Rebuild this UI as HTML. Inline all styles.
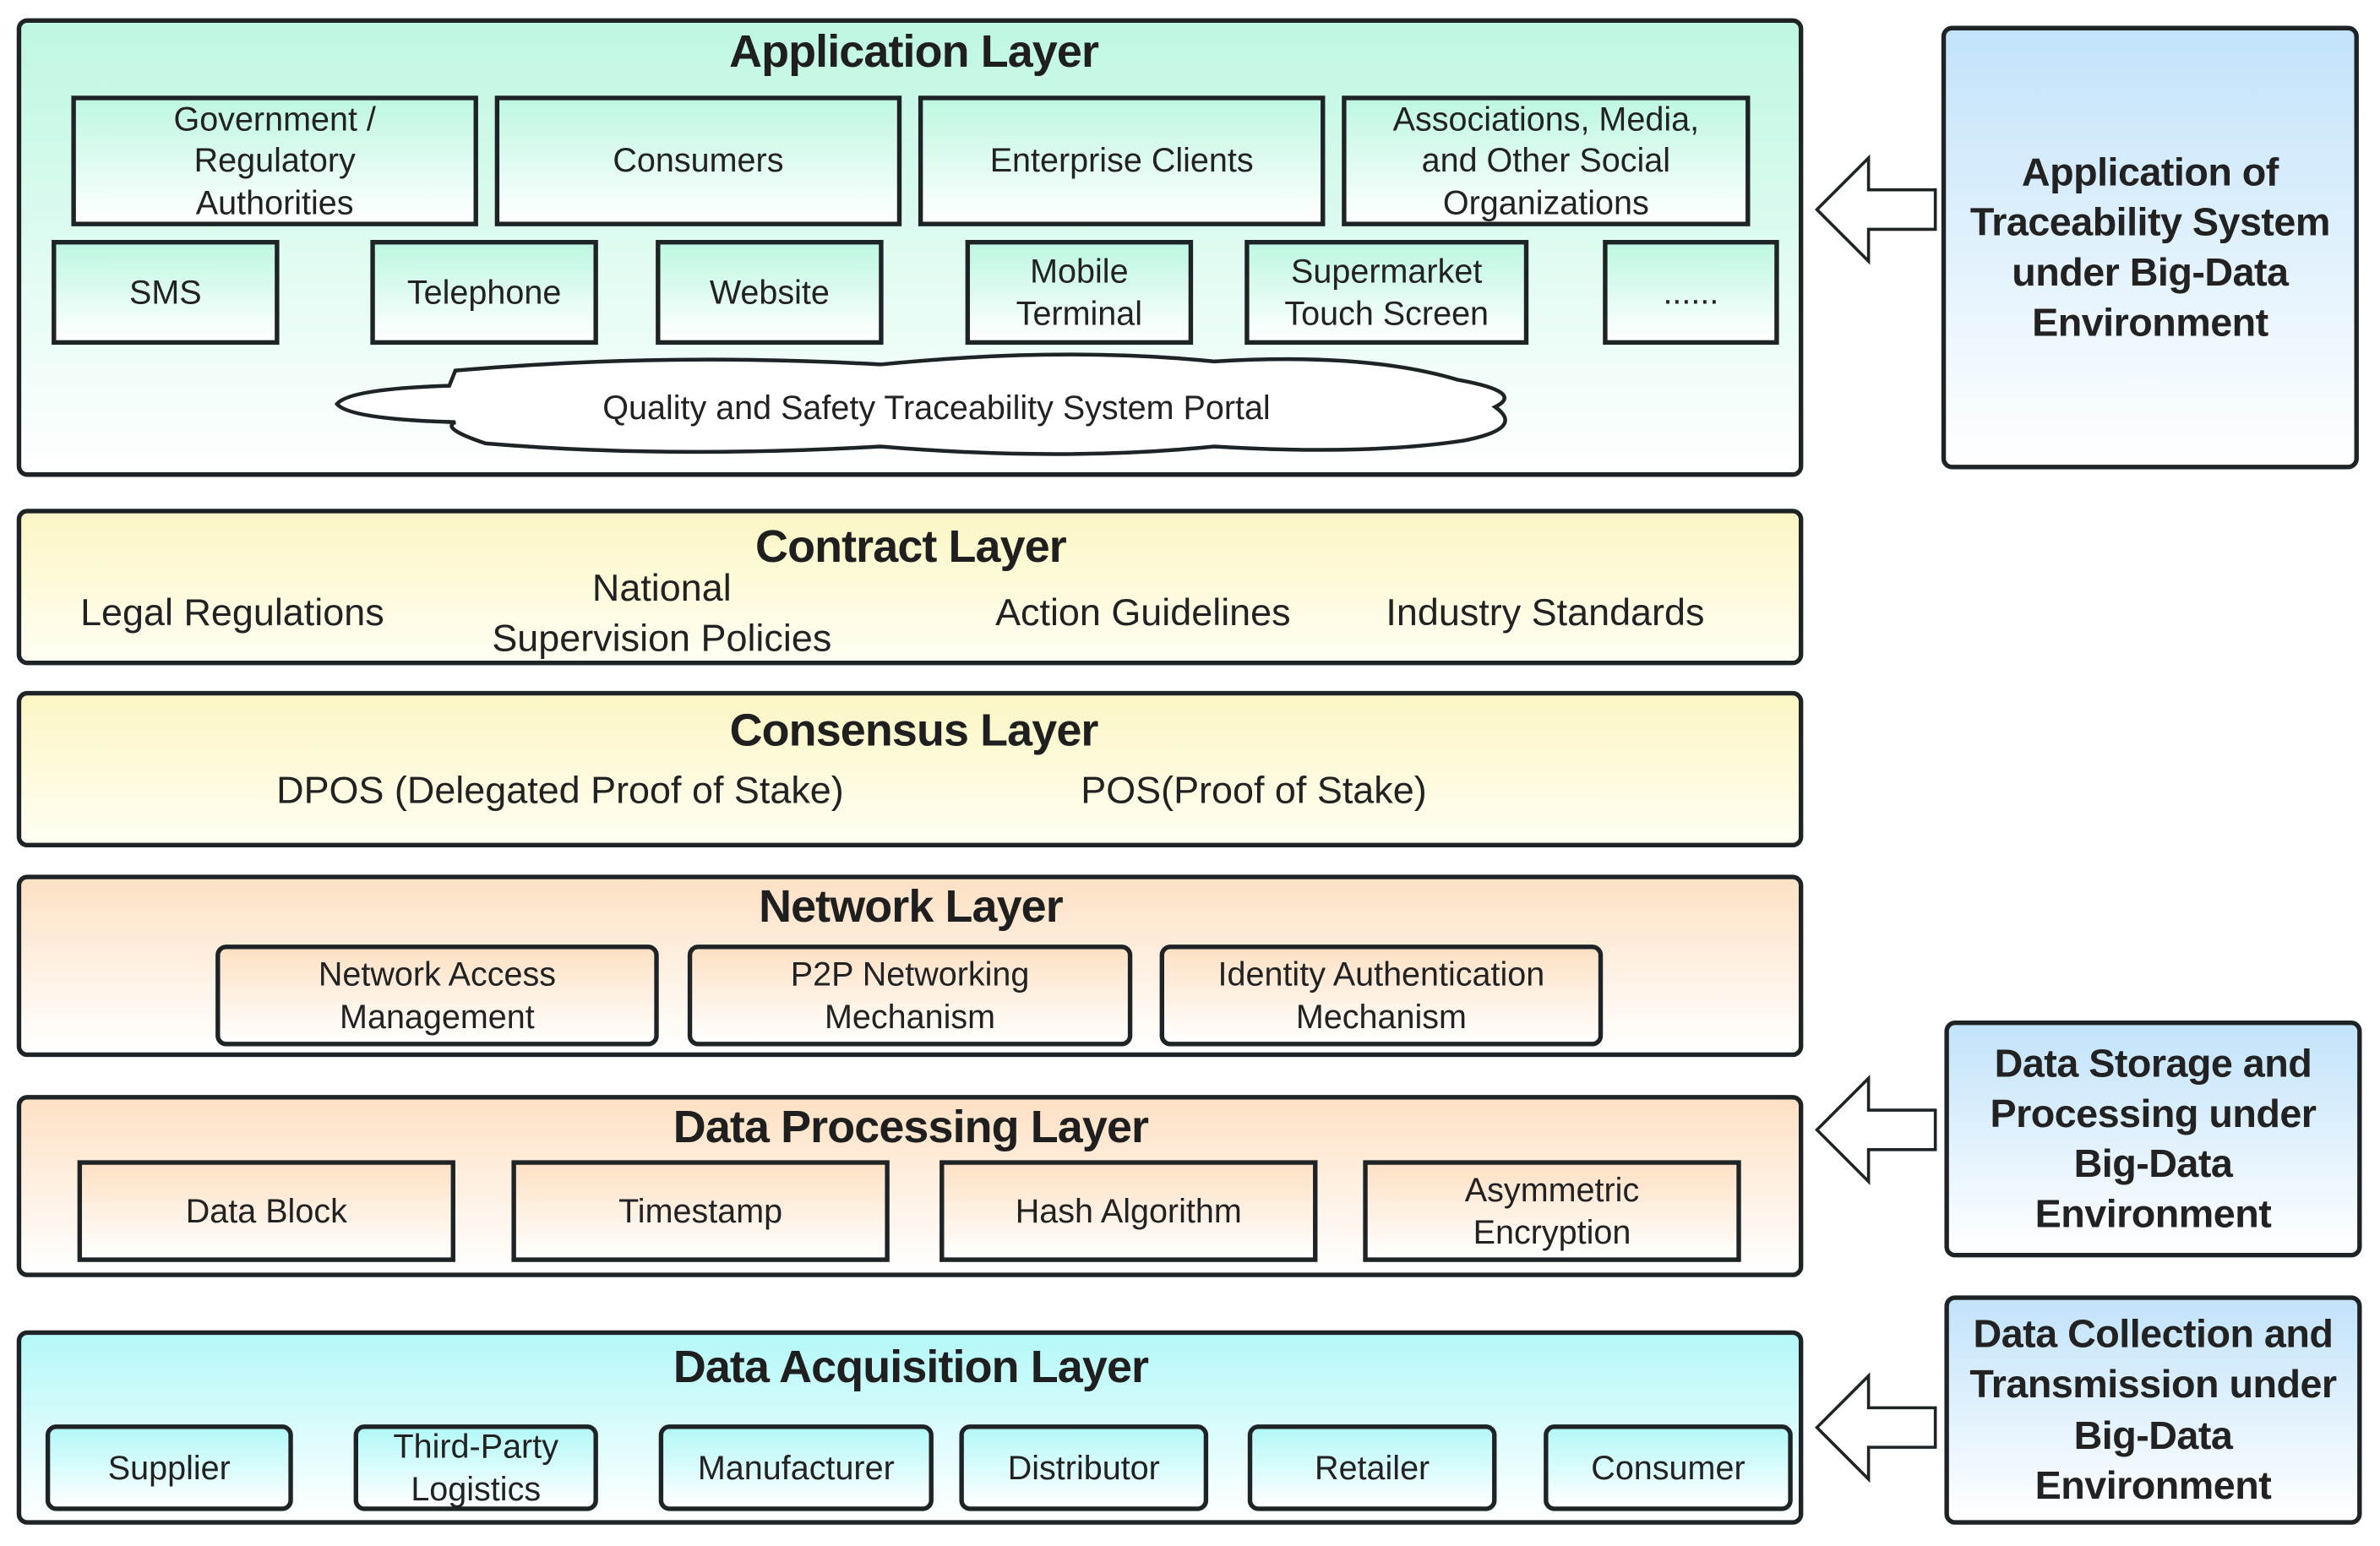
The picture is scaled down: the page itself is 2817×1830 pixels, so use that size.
<!DOCTYPE html>
<html><head><meta charset="utf-8"><style>
html,body{margin:0;padding:0;background:#fff;width:2817px;height:1830px;overflow:hidden}
#w{position:absolute;left:0;top:0;width:1568px;height:1018px;transform-origin:0 0;transform:scale(1.7966,1.7976);font-family:"Liberation Sans",sans-serif;color:#222}
.a{position:absolute;box-sizing:border-box;display:flex;align-items:center;justify-content:center;text-align:center;line-height:1.25}
.L{border:3px solid #1e2326;border-radius:7px}
.b{border:3px solid #1e2326;font-size:22px}
.r{border-radius:7px}
.t{position:absolute;font-size:30px;transform:translateX(-50%);white-space:nowrap;color:#1f1f1f;font-weight:bold;letter-spacing:-0.5px}
.i{position:absolute;font-size:25px;transform:translate(-50%,-50%);white-space:nowrap;text-align:center;line-height:1.3}
.g1{background:linear-gradient(#bef7e2,#fff)}
.y{background:linear-gradient(#fbf6c4,#fffef2)}
.p{background:linear-gradient(#fde1c4,#fff)}
.c{background:linear-gradient(#b4f8f8,#fff)}
.bl{background:linear-gradient(#c2e3fa,#fff);font-size:26px;font-weight:bold;letter-spacing:-0.3px;line-height:1.27}
</style></head><body><div id="w">

<div class="a L g1" style="left:11px;top:12px;width:1177px;height:302px"></div>
<div class="t" style="left:602px;top:18px">Application Layer</div>
<div class="a b g1" style="left:47px;top:63px;width:268px;height:86px">Government /<br>Regulatory<br>Authorities</div>
<div class="a b g1" style="left:326px;top:63px;width:268px;height:86px">Consumers</div>
<div class="a b g1" style="left:605px;top:63px;width:268px;height:86px">Enterprise Clients</div>
<div class="a b g1" style="left:884px;top:63px;width:269px;height:86px">Associations, Media,<br>and Other Social<br>Organizations</div>
<div class="a b g1" style="left:34px;top:158px;width:150px;height:69px">SMS</div>
<div class="a b g1" style="left:244px;top:158px;width:150px;height:69px">Telephone</div>
<div class="a b g1" style="left:432px;top:158px;width:150px;height:69px">Website</div>
<div class="a b g1" style="left:636px;top:158px;width:150px;height:69px">Mobile<br>Terminal</div>
<div class="a b g1" style="left:820px;top:158px;width:187px;height:69px">Supermarket<br>Touch Screen</div>
<div class="a b g1" style="left:1056px;top:158px;width:116px;height:69px">......</div>
<svg style="position:absolute;left:0;top:0" width="1568" height="1018">
<path d="M300,244 Q440,232 580,240 Q700,228 800,238 Q900,232 960,250 Q1005,258 985,268 Q1005,282 965,290 Q900,300 800,294 Q700,304 580,294 Q440,302 320,292 Q290,282 300,278 Q230,276 222,266 Q230,256 296,254 Z" fill="#fff" stroke="#1e2326" stroke-width="2.5"/>
<g fill="#fff" stroke="#1e2326" stroke-width="2">
<path d="M1197,138 L1231,104 L1231,125 L1275,125 L1275,151 L1231,151 L1231,172 Z"/>
<path d="M1197,744 L1231,710 L1231,731 L1275,731 L1275,757 L1231,757 L1231,778 Z"/>
<path d="M1197,940 L1231,906 L1231,927 L1275,927 L1275,953 L1231,953 L1231,974 Z"/>
</g>
<text x="617" y="276" font-family="Liberation Sans" font-size="22" text-anchor="middle" fill="#222">Quality and Safety Traceability System Portal</text>
</svg>

<div class="a L bl" style="left:1279px;top:17px;width:275px;height:292px">Application of<br>Traceability System<br>under Big-Data<br>Environment</div>
<div class="a L bl" style="left:1281px;top:672px;width:275px;height:156px">Data Storage and<br>Processing under<br>Big-Data<br>Environment</div>
<div class="a L bl" style="left:1281px;top:853px;width:275px;height:151px">Data Collection and<br>Transmission under<br>Big-Data<br>Environment</div>

<div class="a L y" style="left:11px;top:335px;width:1177px;height:103px"></div>
<div class="t" style="left:600px;top:344px">Contract Layer</div>
<div class="i" style="left:153px;top:404px">Legal Regulations</div>
<div class="i" style="left:436px;top:404px">National<br>Supervision Policies</div>
<div class="i" style="left:753px;top:404px">Action Guidelines</div>
<div class="i" style="left:1018px;top:404px">Industry Standards</div>

<div class="a L y" style="left:11px;top:455px;width:1177px;height:103px"></div>
<div class="t" style="left:602px;top:465px">Consensus Layer</div>
<div class="i" style="left:369px;top:521px">DPOS (Delegated Proof of Stake)</div>
<div class="i" style="left:826px;top:521px">POS(Proof of Stake)</div>

<div class="a L p" style="left:11px;top:576px;width:1177px;height:120px"></div>
<div class="t" style="left:600px;top:581px">Network Layer</div>
<div class="a b r p" style="left:142px;top:622px;width:292px;height:67px">Network Access<br>Management</div>
<div class="a b r p" style="left:453px;top:622px;width:293px;height:67px">P2P Networking<br>Mechanism</div>
<div class="a b r p" style="left:764px;top:622px;width:292px;height:67px">Identity Authentication<br>Mechanism</div>

<div class="a L p" style="left:11px;top:721px;width:1177px;height:120px"></div>
<div class="t" style="left:600px;top:726px">Data Processing Layer</div>
<div class="a b p" style="left:51px;top:764px;width:249px;height:67px">Data Block</div>
<div class="a b p" style="left:337px;top:764px;width:249px;height:67px">Timestamp</div>
<div class="a b p" style="left:619px;top:764px;width:249px;height:67px">Hash Algorithm</div>
<div class="a b p" style="left:898px;top:764px;width:249px;height:67px">Asymmetric<br>Encryption</div>

<div class="a L c" style="left:11px;top:876px;width:1177px;height:128px"></div>
<div class="t" style="left:600px;top:884px">Data Acquisition Layer</div>
<div class="a b r c" style="left:30px;top:938px;width:163px;height:57px">Supplier</div>
<div class="a b r c" style="left:233px;top:938px;width:161px;height:57px">Third-Party<br>Logistics</div>
<div class="a b r c" style="left:434px;top:938px;width:181px;height:57px">Manufacturer</div>
<div class="a b r c" style="left:632px;top:938px;width:164px;height:57px">Distributor</div>
<div class="a b r c" style="left:822px;top:938px;width:164px;height:57px">Retailer</div>
<div class="a b r c" style="left:1017px;top:938px;width:164px;height:57px">Consumer</div>
</div></body></html>
